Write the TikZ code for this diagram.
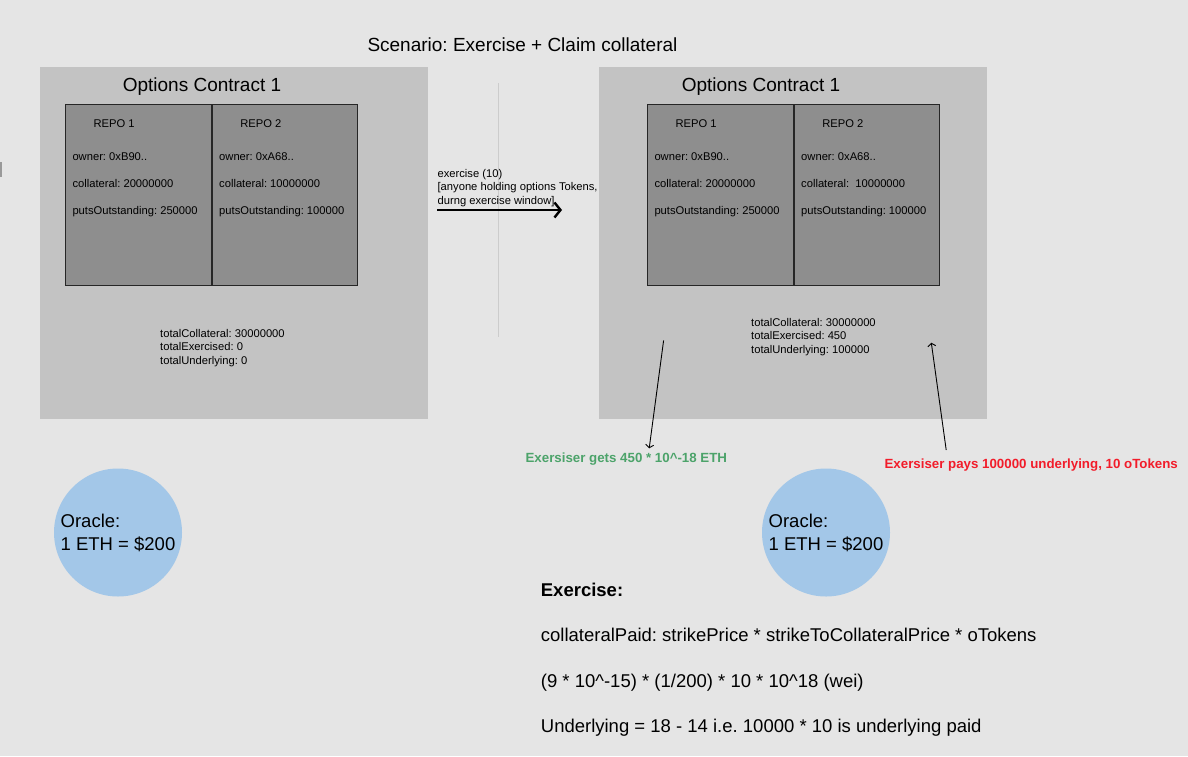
\documentclass[tikz,border=0pt]{standalone}
\usepackage{fontspec}
\setmainfont{Liberation Sans}
\usetikzlibrary{positioning,arrows.meta}
\frenchspacing

\definecolor{canvasgrey}{HTML}{E5E5E5}
\definecolor{contractgrey}{HTML}{C3C3C3}
\definecolor{repogrey}{HTML}{8E8E8E}
\definecolor{oracleblue}{HTML}{A3C7E8}
\definecolor{getsgreen}{HTML}{4CA36A}
\definecolor{paysred}{HTML}{F21C2A}

\begin{document}
\begin{tikzpicture}[x=1pt,y=-1pt,
										contract/.style={fill=contractgrey,minimum width=388pt,minimum height=352pt,inner sep=0pt,anchor=north west},
										repo/.style={draw=black!85,line width=1.2pt,fill=repogrey,minimum width=145.5pt,minimum height=181pt,inner sep=0pt},
										title/.style={font=\fontsize{19}{23}\selectfont,inner sep=0pt,anchor=base},
										small/.style={font=\fontsize{11.2}{13.4}\selectfont,inner sep=0pt,anchor=base west,align=left},
										big/.style={font=\fontsize{18.5}{23}\selectfont,inner sep=0pt,anchor=base west},
										oracle/.style={circle,fill=oracleblue,minimum size=128pt,inner sep=0pt,align=left,font=\fontsize{18.5}{23}\selectfont},
										note/.style={font=\bfseries\fontsize{13.3}{16}\selectfont,inner sep=0pt,anchor=base west},
										thinarrow/.style={line width=0.9pt,-{Straight Barb[length=3pt,width=8pt]}}
										]
	\useasboundingbox (0,0) rectangle (1188,756);
	\fill[canvasgrey] (0,0) rectangle (1188,756);
	\fill[black!40] (0,161.7) rectangle (2,177.3);

	\node[title,anchor=base west] (scen) at (367.3,51.7) {Scenario: Exercise + Claim collateral};

	% before exercise
	\node[contract] (C1) at (40,67) {};
	\node[title] (T1) at (202,91.5) {Options Contract 1};
	\node[repo,anchor=north west] (R11) at (65,104) {};
	\node[repo,right=0pt of R11] (R12) {};
	\node[small] (R11n) at ([shift={(28.4,23.3)}]R11.north west) {REPO 1};
	\node[small] (R11o) at ([shift={(7.3,56.5)}]R11.north west) {owner: 0xB90..};
	\node[small] (R11c) at ([shift={(7.3,83.3)}]R11.north west) {collateral: 20000000};
	\node[small] (R11p) at ([shift={(7.3,110.3)}]R11.north west) {putsOutstanding: 250000};
	\node[small] (R12n) at ([shift={(28.4,23.3)}]R12.north west) {REPO 2};
	\node[small] (R12o) at ([shift={(7.3,56.5)}]R12.north west) {owner: 0xA68..};
	\node[small] (R12c) at ([shift={(7.3,83.3)}]R12.north west) {collateral: 10000000};
	\node[small] (R12p) at ([shift={(7.3,110.3)}]R12.north west) {putsOutstanding: 100000};
	% base of a node with several lines is its last line
	\node[small] (tot1) at (160,364.3) {totalCollateral: 30000000\\totalExercised: 0\\totalUnderlying: 0};

	\draw[black!20,line width=1pt] (498.4,83) -- (498.4,337);
	\node[small] (exlabel) at (437.4,204.2) {exercise (10)\\{[}anyone holding options Tokens,\\durng exercise window]};
	\coordinate (exFrom) at (437.4,210);
	\coordinate (exTo) at (562,210);
	\draw[line width=2.4pt,-{Straight Barb[length=6pt,width=15pt]}] (exFrom) -- (exTo);

	% after exercise
	\node[contract] (C2) at (599,67) {};
	\node[title] (T2) at (761,91.5) {Options Contract 1};
	\node[repo,anchor=north west] (R21) at (647,104) {};
	\node[repo,right=0pt of R21] (R22) {};
	\node[small] (R21n) at ([shift={(28.4,23.3)}]R21.north west) {REPO 1};
	\node[small] (R21o) at ([shift={(7.3,56.5)}]R21.north west) {owner: 0xB90..};
	\node[small] (R21c) at ([shift={(7.3,83.3)}]R21.north west) {collateral: 20000000};
	\node[small] (R21p) at ([shift={(7.3,110.3)}]R21.north west) {putsOutstanding: 250000};
	\node[small] (R22n) at ([shift={(28.4,23.3)}]R22.north west) {REPO 2};
	\node[small] (R22o) at ([shift={(7.3,56.5)}]R22.north west) {owner: 0xA68..};
	\node[small] (R22c) at ([shift={(7.3,83.3)}]R22.north west) {collateral:\ \ 10000000};
	\node[small] (R22p) at ([shift={(7.3,110.3)}]R22.north west) {putsOutstanding: 100000};
	\node[small] (tot2) at (751,353.3) {totalCollateral: 30000000\\totalExercised: 450\\totalUnderlying: 100000};

	\node[note,text=getsgreen] (gets) at (525.4,462.7) {Exersiser gets 450 * 10\textasciicircum{}-18 ETH};
	\node[note,text=paysred] (pays) at (884.4,468.3) {Exersiser pays 100000 underlying, 10 oTokens};
	\coordinate (getsFrom) at (663.6,340.5);
	\coordinate (getsTo) at (649.2,448.3);
	\coordinate (paysFrom) at (946.2,450);
	\coordinate (paysTo) at (931.3,342.7);
	\draw[thinarrow] (getsFrom) -- (getsTo);
	\draw[thinarrow] (paysFrom) -- (paysTo);

	\node[oracle] (O1) at (118,532.5) {Oracle:\\1 ETH = \$200};
	\node[oracle] (O2) at (826,532.5) {Oracle:\\1 ETH = \$200};

	\node[big,font=\bfseries\fontsize{18.5}{23}\selectfont] (exhead) at (540.7,596.7) {Exercise:};
	\node[big] (paid) at (540.7,641.7) {collateralPaid: strikePrice * strikeToCollateralPrice * oTokens};
	\node[big] (calc) at (540.7,687.7) {(9 * 10\textasciicircum{}-15) * (1/200) * 10 * 10\textasciicircum{}18 (wei)};
	\node[big] (under) at (540.7,732.3) {Underlying = 18 - 14 i.e. 10000 * 10 is underlying paid};
\end{tikzpicture}
\end{document}
